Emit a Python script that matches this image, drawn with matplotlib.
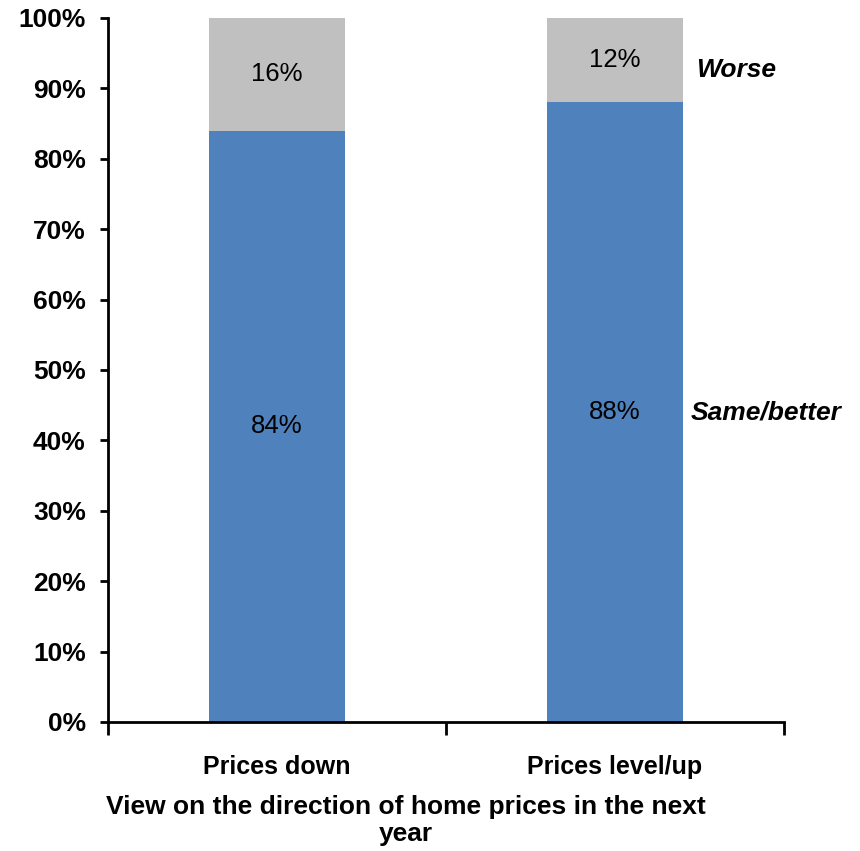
import matplotlib.pyplot as plt

categories = ['Prices down', 'Prices level/up']
same_better = [84, 88]
worse = [16, 12]
series_names = ['Same/better', 'Worse']

blue = '#4F81BD'
gray = '#C0C0C0'

plt.rcParams['font.family'] = ['Liberation Sans', 'DejaVu Sans']

fig = plt.figure(figsize=(8.6, 8.51), dpi=100)
ax = fig.add_axes([0.1256, 0.1516, 0.786, 0.8273])

x = range(len(categories))
ax.bar(x, same_better, width=0.4, color=blue)
ax.bar(x, worse, width=0.4, bottom=same_better, color=gray)

# value labels in the middle of each segment
for i in x:
    ax.text(i, same_better[i] / 2, f'{same_better[i]}%', ha='center', va='center', fontsize=18.5)
    ax.text(i, same_better[i] + worse[i] / 2, f'{worse[i]}%', ha='center', va='center', fontsize=18.5)

# series names next to the right bar
last = len(categories) - 1
ax.text(last + 0.24, same_better[last] + worse[last] / 2 - 1.4, series_names[1],
        ha='left', va='center', fontsize=19, fontweight='bold', style='italic')
ax.text(last + 0.225, same_better[last] / 2, series_names[0],
        ha='left', va='center', fontsize=19, fontweight='bold', style='italic')

ax.set_xlim(-0.5, 1.5)
ax.set_ylim(0, 100)
ax.set_yticks(range(0, 101, 10))
ax.set_yticklabels([f'{v}%' for v in range(0, 101, 10)], fontsize=19, fontweight='bold')
ax.set_xticks([-0.5, 0.5, 1.5])
ax.set_xticklabels([])
ax.set_xticks(list(x), minor=True)
ax.set_xticklabels(categories, minor=True, fontsize=18, fontweight='bold')
ax.tick_params(axis='x', which='minor', length=0, pad=24)
ax.tick_params(axis='x', which='major', length=9, width=2)
ax.tick_params(axis='y', length=6, width=2, pad=10)

for side in ['top', 'right']:
    ax.spines[side].set_visible(False)
for side in ['left', 'bottom']:
    ax.spines[side].set_linewidth(2)

ax.text(0.44, -0.104, 'View on the direction of home prices in the next\nyear',
        transform=ax.transAxes, ha='center', va='top', fontsize=19,
        fontweight='bold', linespacing=1.15)

fig.savefig('out.png', dpi=100)
